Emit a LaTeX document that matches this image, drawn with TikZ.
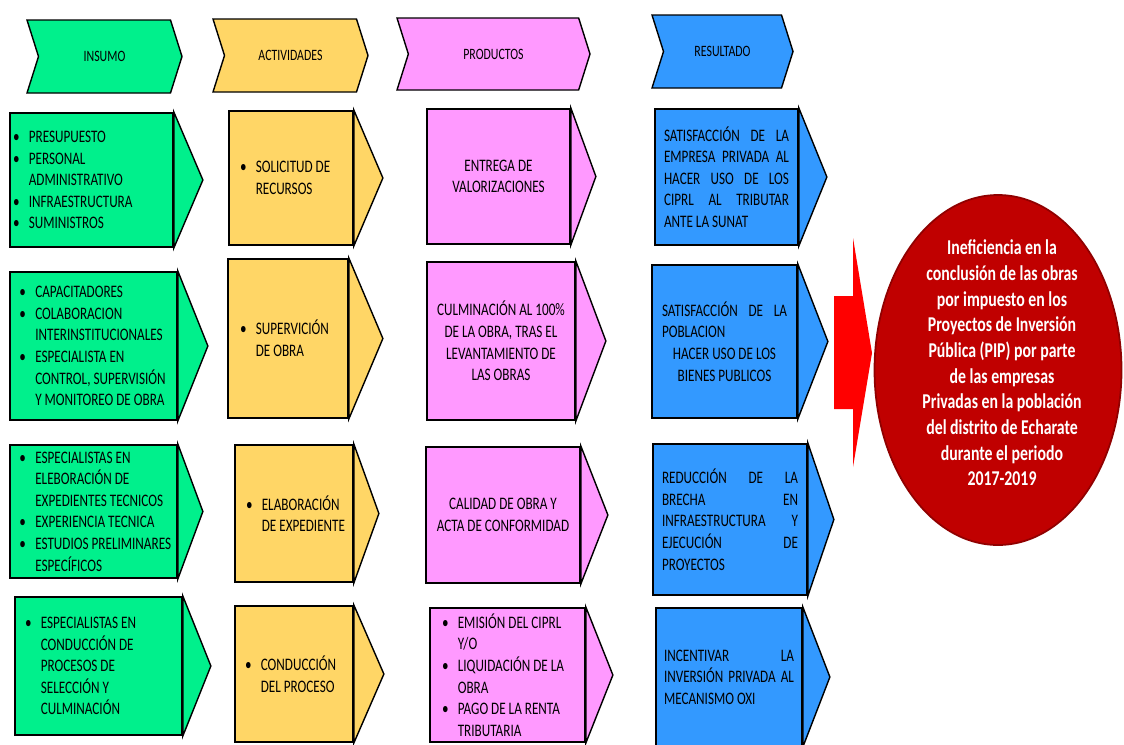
\documentclass[tikz,border=0pt]{standalone}
\usepackage{fontspec}
\setmainfont{Carlito}[FakeStretch=0.75]
\usetikzlibrary{shapes.symbols,shapes.geometric}
\hyphenpenalty=10000
\exhyphenpenalty=10000
\definecolor{insumo}{RGB}{0,240,140}
\definecolor{activ}{RGB}{255,214,102}
\definecolor{produc}{RGB}{255,153,255}
\definecolor{result}{RGB}{51,153,255}
\definecolor{dred}{RGB}{192,0,0}
\tikzstyle{head} = [
    draw,
    line width=0.8pt,
    signal,
    signal to=east,
    signal from=west,
    signal pointer angle=145,
    font=\fontsize{9}{10.5}\selectfont]
\tikzstyle{box} = [
    draw,
    line width=1pt,
    rectangle,
    inner sep=0pt,
    align=justify,
    font=\fontsize{10}{12.3}\selectfont]
\tikzstyle{problem} = [
    ellipse,
    fill=dred,
    draw=dred!75!black,
    line width=1pt]
\tikzset{
    sz/.style 2 args={minimum width=#1*0.02cm, minimum height=#2*0.02cm},
    tw/.style={text width=#1*0.02cm}}
\newcommand{\bul}[1]{\mbox{\makebox[9pt][l]{\textbullet}#1}}
\newcommand{\ind}[1]{\mbox{\hspace*{9pt}#1}}

\begin{document}
\begin{tikzpicture}[x=0.02cm, y=-0.02cm]
    \useasboundingbox (0,0) rectangle (1124,744);

    \node[head, fill=insumo, sz={155}{73}] (hIns) at (104.5,56.5) {INSUMO};
    \node[head, fill=activ, sz={155}{73}] (hAct) at (290.5,55.5) {ACTIVIDADES};
    \node[head, fill=produc, sz={193}{72}] (hPro) at (493.5,54) {PRODUCTOS};
    \node[head, fill=result, sz={141}{73}] (hRes) at (722.5,51.5) {RESULTADO};

    \node[box, fill=insumo, sz={163}{134}, tw=157] (ins1) at (91.5,180)
        {\bul{PRESUPUESTO}\\ \bul{PERSONAL}\\ \ind{ADMINISTRATIVO}\\ \bul{INFRAESTRUCTURA}\\ \bul{SUMINISTROS}};
    \node[box, fill=insumo, sz={167}{148}, tw=148] (ins2) at (93.5,346)
        {\bul{CAPACITADORES}\\ \bul{COLABORACION}\\ \ind{INTERINSTITUCIONALES}\\ \bul{ESPECIALISTA EN}\\ \ind{CONTROL, SUPERVISIÓN}\\ \ind{Y MONITOREO DE OBRA}};
    \node[box, fill=insumo, sz={167}{133}, tw=148] (ins3) at (93.5,511.5)
        {\bul{ESPECIALISTAS EN}\\ \ind{ELEBORACIÓN DE}\\ \ind{EXPEDIENTES TECNICOS}\\ \bul{EXPERIENCIA TECNICA}\\ \bul{ESTUDIOS PRELIMINARES}\\ \ind{ESPECÍFICOS}};
    \node[box, fill=insumo, sz={167}{138}, tw=147] (ins4) at (98.5,666)
        {\bul{ESPECIALISTAS EN}\\ \ind{CONDUCCIÓN DE}\\ \ind{PROCESOS DE}\\ \ind{SELECCIÓN Y}\\ \ind{CULMINACIÓN}};

    \node[box, fill=activ, sz={124}{134}, tw=102] (act1) at (291,178)
        {\bul{SOLICITUD DE}\\ \ind{RECURSOS}};
    \node[box, fill=activ, sz={120}{159}, tw=96] (act2) at (288,338.5)
        {\bul{SUPERVICIÓN}\\ \ind{DE OBRA}};
    \node[box, fill=activ, sz={118}{137}, tw=96] (act3) at (294,513.5)
        {\bul{ELABORACIÓN}\\ \ind{DE EXPEDIENTE}};
    \node[box, fill=activ, sz={118}{136}, tw=98] (act4) at (294,674)
        {\bul{CONDUCCIÓN}\\ \ind{DEL PROCESO}};

    \node[box, fill=produc, sz={143}{135}, align=center] (pro1) at (498.5,176.5)
        {ENTREGA DE\\ VALORIZACIONES};
    \node[box, fill=produc, sz={148}{158}, align=center] (pro2) at (501,341)
        {CULMINACIÓN AL 100\%\\ DE LA OBRA, TRAS EL\\ LEVANTAMIENTO DE\\ LAS OBRAS};
    \node[box, fill=produc, sz={154}{136}, align=center] (pro3) at (503,515)
        {CALIDAD DE OBRA Y\\ ACTA DE CONFORMIDAD};
    \node[box, fill=produc, sz={155}{134}, tw=131] (pro4) at (507.5,675)
        {\bul{EMISIÓN DEL CIPRL}\\ \ind{Y/O}\\ \bul{LIQUIDACIÓN DE LA}\\ \ind{OBRA}\\ \bul{PAGO DE LA RENTA}\\ \ind{TRIBUTARIA}};

    \node[box, fill=result, sz={143}{136}, tw=125] (res1) at (726.5,177)
        {SATISFACCIÓN\hfill DE\hfill LA\\ EMPRESA\hfill PRIVADA\hfill AL\\ HACER\hfill USO\hfill DE\hfill LOS\\ CIPRL\hfill AL\hfill TRIBUTAR\\ ANTE LA SUNAT};
    \node[box, fill=result, sz={145}{153}, tw=125] (res2) at (724.5,341.5)
        {SATISFACCIÓN\hfill DE\hfill LA\\ POBLACION\\ \hspace*{\fill}HACER USO DE LOS\hspace*{\fill}\null\\ \hspace*{\fill}BIENES PUBLICOS\hspace*{\fill}\null};
    \node[box, fill=result, sz={154}{151}, tw=136] (res3) at (730,519.5)
        {REDUCCIÓN\hfill DE\hfill LA\\ BRECHA\hfill EN\\ INFRAESTRUCTURA\hfill Y\\ EJECUCIÓN\hfill DE\\ PROYECTOS};
    \node[box, fill=result, sz={146}{138}, tw=130] (res4) at (729,677)
        {INCENTIVAR\hfill LA\\ INVERSIÓN\hfill PRIVADA\hfill AL\\ MECANISMO OXI};

    \foreach \n/\c/\d in {ins1/insumo/29, ins2/insumo/30, ins3/insumo/25, ins4/insumo/28,
                          act1/activ/29, act2/activ/34, act3/activ/25, act4/activ/30,
                          pro1/produc/25, pro2/produc/30, pro3/produc/27, pro4/produc/27,
                          res1/result/28, res2/result/30, res3/result/26, res4/result/27}
        \filldraw[line width=0.8pt, fill=\c] (\n.north east) -- ([xshift=\d*0.02cm]\n.east) -- (\n.south east) -- cycle;

    \fill[red] (834,296) -- (853,296) -- (853,238) -- (872,353) -- (853,467) -- (853,409) -- (834,409) -- cycle;

    \node[problem, sz={247}{350}] (prob) at (998,370) {};
    \node[text=white, align=center, font=\bfseries\fontsize{12}{14.6}\selectfont] (probtxt) at (1002,363)
        {Ineficiencia en la\\ conclusión de las obras\\ por impuesto en los\\ Proyectos de Inversión\\ Pública (PIP) por parte\\ de las empresas\\ Privadas en la población\\ del distrito de Echarate\\ durante el periodo\\ 2017-2019};
\end{tikzpicture}
\end{document}
